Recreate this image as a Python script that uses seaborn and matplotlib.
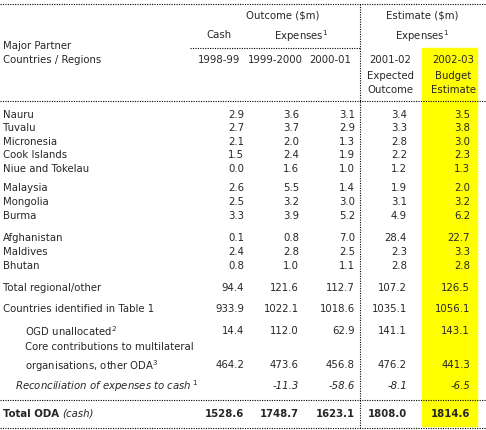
import matplotlib
matplotlib.use("Agg")
import matplotlib.pyplot as plt
import seaborn as sns
import pandas as pd

sns.set_style("white")
plt.rcParams['font.family'] = ['DejaVu Sans']

# Table data
labels = ["Nauru", "Tuvalu", "Micronesia", "Cook Islands", "Niue and Tokelau",
          "Malaysia", "Mongolia", "Burma",
          "Afghanistan", "Maldives", "Bhutan",
          "Total regional/other", "Countries identified in Table 1",
          "OGD unallocated$^{2}$",
          "Core contributions to multilateral\norganisations, other ODA$^{3}$"]
cash_9899 = [2.9, 2.7, 2.1, 1.5, 0.0, 2.6, 2.5, 3.3, 0.1, 2.4, 0.8, 94.4, 933.9, 14.4, 464.2]
exp_9900 = [3.6, 3.7, 2.0, 2.4, 1.6, 5.5, 3.2, 3.9, 0.8, 2.8, 1.0, 121.6, 1022.1, 112.0, 473.6]
exp_0001 = [3.1, 2.9, 1.3, 1.9, 1.0, 1.4, 3.0, 5.2, 7.0, 2.5, 1.1, 112.7, 1018.6, 62.9, 456.8]
exp_0102 = [3.4, 3.3, 2.8, 2.2, 1.2, 1.9, 3.1, 4.9, 28.4, 2.3, 2.8, 107.2, 1035.1, 141.1, 476.2]
exp_0203 = [3.5, 3.8, 3.0, 2.3, 1.3, 2.0, 3.2, 6.2, 22.7, 3.3, 2.8, 126.5, 1056.1, 143.1, 441.3]
recon = [None, -11.3, -58.6, -8.1, -6.5]
total_oda = [1528.6, 1748.7, 1623.1, 1808.0, 1814.6]

df = pd.DataFrame({"label": labels, "c1": cash_9899, "c2": exp_9900,
                   "c3": exp_0001, "c4": exp_0102, "c5": exp_0203})

row_y = [115, 128, 142, 155, 169, 188, 202, 216, 238, 252, 266, 288, 309, 331, 365]
col_x = [244, 299, 355, 407, 470]
indent = {13: 22, 14: 22}

fig = plt.figure(figsize=(4.86, 4.30), dpi=100)
ax = fig.add_axes([0, 0, 1, 1])
ax.set_xlim(0, 486)
ax.set_ylim(430, 0)
ax.axis("off")

fs = 7.3
ax.add_patch(plt.Rectangle((422, 48), 55, 378, color="#ffff00", zorder=0))

dot = dict(color="black", linestyle=(0, (1, 1.2)), linewidth=0.8)
ax.plot([0, 486], [4, 4], **dot)
ax.plot([0, 486], [101, 101], **dot)
ax.plot([190, 360], [48, 48], **dot)
ax.plot([0, 486], [400, 400], **dot)
ax.plot([0, 486], [428, 428], **dot)
ax.plot([360, 360], [4, 428], **dot)

# headers
ax.text(283, 16, "Outcome ($m)", ha="center", va="center", fontsize=fs)
ax.text(422, 16, "Estimate ($m)", ha="center", va="center", fontsize=fs)
ax.text(219, 35, "Cash", ha="center", va="center", fontsize=fs)
ax.text(301, 36, "Expenses$^{1}$", ha="center", va="center", fontsize=fs)
ax.text(422, 36, "Expenses$^{1}$", ha="center", va="center", fontsize=fs)
ax.text(3, 46, "Major Partner", ha="left", va="center", fontsize=fs)
ax.text(3, 60, "Countries / Regions", ha="left", va="center", fontsize=fs)
for x, t in zip([219, 275, 330, 390, 453], ["1998-99", "1999-2000", "2000-01", "2001-02", "2002-03"]):
    ax.text(x, 60, t, ha="center", va="center", fontsize=fs)
ax.text(390, 76, "Expected", ha="center", va="center", fontsize=fs)
ax.text(390, 90, "Outcome", ha="center", va="center", fontsize=fs)
ax.text(453, 76, "Budget", ha="center", va="center", fontsize=fs)
ax.text(453, 90, "Estimate", ha="center", va="center", fontsize=fs)

cols = ["c1", "c2", "c3", "c4", "c5"]
for i, row in df.iterrows():
    y = row_y[i]
    ly = y - 7 if "\n" in row["label"] else y
    ax.text(3 + indent.get(i, 0), ly, row["label"], ha="left", va="center",
            fontsize=fs, linespacing=1.5)
    for x, c in zip(col_x, cols):
        ax.text(x, y, f"{row[c]:.1f}", ha="right", va="center", fontsize=fs)

ax.text(15, 386, "Reconciliation of expenses to cash$^{\\ 1}$", ha="left", va="center",
        fontsize=fs, style="italic")
for x, v in zip(col_x, recon):
    if v is not None:
        ax.text(x, 386, f"{v:.1f}", ha="right", va="center", fontsize=fs, style="italic")

ax.text(3, 414, "Total ODA", ha="left", va="center", fontsize=fs, fontweight="bold")
ax.text(62, 414, "(cash)", ha="left", va="center", fontsize=fs, style="italic")
for x, v in zip(col_x, total_oda):
    ax.text(x, 414, f"{v:.1f}", ha="right", va="center", fontsize=fs, fontweight="bold")

fig.savefig("out.png", dpi=100)
